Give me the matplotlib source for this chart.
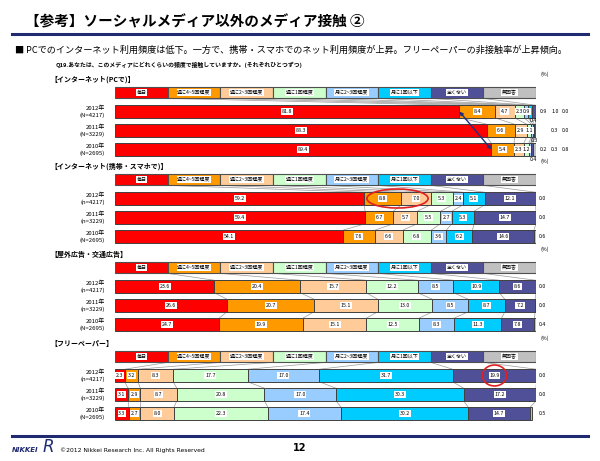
import matplotlib.pyplot as plt
from matplotlib.patches import Ellipse

plt.rcParams['font.family'] = ['Noto Sans CJK JP', 'DejaVu Sans']

# categories and colours (legend row)
categories = ['毎日', '週に4~5回程度', '週に2~3回程度', '週に1回程度',
              '月に2~3回程度', '月に1回以下', '全くない', '無回答']
colors = ['#FF0000', '#FF9900', '#FFCC99', '#CCFFCC',
          '#99CCFF', '#00CCFF', '#505099', '#C0C0C0']

years = ['2012年', '2011年', '2010年']

# インターネット(PCで)
pc_n = ['(N=4217)', '(N=3229)', '(N=2695)']
pc_2012 = [81.8, 8.4, 4.7, 2.3, 0.9, 0.9, 1.0, 0.0]
pc_2011 = [88.3, 6.6, 2.9, 1.1, 0.4, 0.3, 0.3, 0.0]
pc_2010 = [89.4, 5.4, 2.3, 1.2, 0.4, 0.2, 0.3, 0.8]

# インターネット(携帯・スマホで)
mobile_n = ['(n=4217)', '(n=3229)', '(N=2695)']
mobile_2012 = [59.2, 8.8, 7.0, 5.3, 2.4, 5.1, 12.1, 0.0]
mobile_2011 = [59.4, 6.7, 5.7, 5.5, 2.7, 5.3, 14.7, 0.0]
mobile_2010 = [54.1, 7.6, 6.6, 6.8, 3.6, 6.2, 14.6, 0.6]

# 屋外広告・交通広告
outdoor_n = ['(n=4217)', '(n=3229)', '(N=2695)']
outdoor_2012 = [23.6, 20.4, 15.7, 12.2, 8.5, 10.9, 8.6, 0.0]
outdoor_2011 = [26.6, 20.7, 15.1, 13.0, 8.5, 8.7, 7.2, 0.0]
outdoor_2010 = [24.7, 19.9, 15.1, 12.5, 8.3, 11.3, 7.8, 0.4]

# フリーペーパー
free_n = ['(n=4217)', '(n=3229)', '(N=2695)']
free_2012 = [2.3, 3.2, 8.3, 17.7, 17.0, 31.7, 19.9, 0.0]
free_2011 = [3.1, 2.9, 8.7, 20.8, 17.0, 30.3, 17.2, 0.0]
free_2010 = [3.3, 2.7, 8.0, 22.3, 17.4, 30.2, 14.7, 0.5]

sections = [
    ('【インターネット(PCで)】', pc_n, [pc_2012, pc_2011, pc_2010], 83),
    ('【インターネット(携帯・スマホで)】', mobile_n, [mobile_2012, mobile_2011, mobile_2010], 170),
    ('【屋外広告・交通広告】', outdoor_n, [outdoor_2012, outdoor_2011, outdoor_2010], 258),
    ('【フリーペーパー】', free_n, [free_2012, free_2011, free_2010], 347),
]

# where small PC values are written outside the bar: (row, category) -> (x, dy)
pc_outside = {(1, 4): (99.3, -0.55), (1, 5): (99.6, 0.55), (2, 4): (99.3, 0.55)}
outside_cols = {5: 101.0, 6: 103.6, 7: 106.0}

W, H = 600, 461
fig = plt.figure(figsize=(6, 4.61), dpi=100)
fig.patch.set_facecolor('white')

def fy(py):
    return 1 - py / H

box = dict(boxstyle='square,pad=0.15', fc='white', ec='none')
bh = 0.66
axes = []
for si, (title, ns, rows, top) in enumerate(sections):
    ax = fig.add_axes([115 / W, fy(top + 76), 421 / W, 76 / H])
    axes.append(ax)
    ax.set_xlim(0, 100)
    ax.set_ylim(3.5, -0.5)
    ax.axis('off')

    # legend row
    leg = [100 / len(categories)] * len(categories)
    left = 0
    for c, w, col in zip(categories, leg, colors):
        ax.barh(0, w, left=left, height=0.62, color=col, edgecolor='#505050', lw=0.8)
        ax.text(left + w / 2, 0, c, ha='center', va='center', fontsize=3.6,
                bbox=box)
        left += w

    all_rows = [leg] + rows
    cums = []
    for r in all_rows:
        c, acc = [0], 0
        for v in r:
            acc += v
            c.append(acc)
        cums.append(c)

    # series lines between bars
    for r in range(len(all_rows) - 1):
        h0 = 0.31 if r == 0 else bh / 2
        for k in range(1, len(categories)):
            ax.plot([cums[r][k], cums[r + 1][k]], [r + h0, r + 1 - bh / 2],
                    color='#9A9A9A', lw=0.5, zorder=0)

    for ri, vals in enumerate(rows):
        y = ri + 1
        ax.barh(y, vals, left=cums[y][:-1], height=bh, color=colors,
                edgecolor='#404040', lw=0.7)
        for k, v in enumerate(vals):
            xc = cums[y][k] + v / 2
            if v >= 1.1:
                ax.text(xc, y, f'{v:.1f}', ha='center', va='center',
                        fontsize=3.8, bbox=box)
            elif si == 0 and (ri, k) in pc_outside:
                x, dy = pc_outside[(ri, k)]
                ax.text(x, y + dy, f'{v:.1f}', ha='center', va='center', fontsize=3.8)
            elif si == 0 and k in outside_cols:
                ax.text(outside_cols[k], y, f'{v:.1f}', ha='left', va='center', fontsize=3.8)
            elif si == 0:
                ax.text(xc, y, f'{v:.1f}', ha='center', va='center',
                        fontsize=3.8, bbox=box)
            elif k == len(vals) - 1:
                ax.text(100.6, y, f'{v:.1f}', ha='left', va='center', fontsize=3.8)
        ax.text(-2.4, y, f'{years[ri]}\n{ns[ri]}', ha='right', va='center',
                fontsize=4.3, linespacing=1.3, clip_on=False)

    fig.text(50 / W, fy(top - 4), title, fontsize=5, fontweight='bold',
             va='center')
    ax.text(101, -0.95, '(%)', fontsize=3.8, ha='left', va='center')

# annotations
ax1, ax2, ax4 = axes[0], axes[1], axes[3]
ax1.annotate('', xy=(pc_2010[0], 3), xytext=(pc_2012[0], 1),
             arrowprops=dict(arrowstyle='<|-|>', color='#1F2F80', lw=1,
                             mutation_scale=5, shrinkA=0, shrinkB=0))
span = mobile_2012[1] + mobile_2012[2]
ax2.add_patch(Ellipse((mobile_2012[0] + span / 2, 1), span * 0.92, 1.0,
                      fill=False, ec='#E02020', lw=1.2, zorder=5))
x4 = sum(free_2012[:6]) + free_2012[6] / 2
ax4.add_patch(Ellipse((x4, 1), 5.8, 1.1, fill=False, ec='#E02020', lw=1.2, zorder=5))

# header and footer
fig.text(25 / W, fy(21), '【参考】ソーシャルメディア以外のメディア接触 ②',
         fontsize=10.5, fontweight='bold', va='center')
fig.add_artist(plt.Line2D([12 / W, 588 / W], [fy(34), fy(34)], color='#1F2A70', lw=2.2))
fig.text(15 / W, fy(50), '■ PCでのインターネット利用頻度は低下。一方で、携帯・スマホでのネット利用頻度が上昇。フリーペーパーの非接触率が上昇傾向。',
         fontsize=6.6, va='center')
fig.text(56 / W, fy(65), 'Q19.あなたは、このメディアにどれくらいの頻度で接触していますか。(それぞれひとつずつ)',
         fontsize=4.2, fontweight='bold', va='center')
fig.add_artist(plt.Line2D([12 / W, 588 / W], [fy(436), fy(436)], color='#1F2A70', lw=2.2))
fig.text(12 / W, fy(450), 'NIKKEI', fontsize=5, fontstyle='italic', fontweight='bold',
         color='#1F2A70', va='center', family='DejaVu Sans')
fig.text(43 / W, fy(447), 'R', fontsize=12, fontstyle='italic', color='#1F2A70',
         va='center', family='DejaVu Sans')
fig.text(60 / W, fy(450), '©2012 Nikkei Research Inc. All Rights Reserved',
         fontsize=4.3, va='center', family='DejaVu Sans')
fig.text(300 / W, fy(448), '12', fontsize=7, fontweight='bold', ha='center', va='center',
         family='DejaVu Sans')

plt.savefig('out.png', dpi=100)
